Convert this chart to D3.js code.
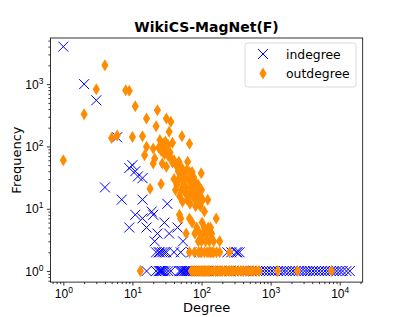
<!DOCTYPE html>
<html>
<head>
<meta charset="utf-8">
<script src="https://cdn.jsdelivr.net/npm/d3@7"></script>
<style>
  body { margin: 0; background: #fff; }
  svg { font-family: "DejaVu Sans", sans-serif; }
  .axis path, .axis line { stroke: #000; stroke-width: 0.8; }
</style>
</head>
<body>
<svg id="chart" width="403" height="317"></svg>
<script>
var title = "WikiCS-MagNet(F)";
var xLabel = "Degree", yLabel = "Frequency";
var seriesNames = ["indegree", "outdegree"];
var majorTicks = [0, 1, 2, 3, 4];
var yMajorTicks = [0, 1, 2, 3];

// [degree, frequency]
var indegree = [
  [1, 4000], [2, 1000], [3, 550], [4, 22], [6, 140],
  [9, 45], [10, 50], [11, 40], [12, 33], [14, 31],
  [7, 14], [14, 14], [32, 12], [11, 8], [19, 9], [20, 8], [14, 7], [29, 6],
  [9, 5], [16, 5], [45, 5], [23, 4], [34, 4], [21, 3], [54, 3],
  [22, 2], [24, 2], [25, 2], [27, 2], [29, 2], [31, 2], [40, 2], [50, 2], [71, 2],
  [237, 2], [270, 2], [317, 2], [331, 2], [355, 2]
];
var indegreeOnes = [16, 22, 24, 25, 26, 27, 28, 30, 33, 36, 48, 50, 52, 55, 57, 60, 62, 65, 67,
  70, 75, 80, 88, 95, 105, 115, 125, 140, 155, 170, 190, 210, 230, 260, 290, 320, 350,
  390, 430, 470, 520, 580, 640, 700, 780, 860, 950, 1050, 1150, 1280, 1400, 1550, 1700,
  1900, 2100, 2300, 2550, 2800, 3100, 3400, 3700, 4100, 4500, 5000, 5500, 6100, 6700,
  7400, 8200, 9000, 10000, 11000, 12500, 14000];

var outdegree = [
  [1, 60], [2, 330], [3, 830], [4, 2000], [5, 137], [6, 150], [8, 800], [9, 780],
  [11, 440], [10, 142], [14, 146], [16, 282], [23, 380], [22, 210], [31, 280], [36, 250],
  [34, 172], [52, 146], [67, 110], [16, 99], [20, 93], [15, 72], [21, 64], [20, 53],
  [27, 53], [47, 57], [63, 57], [25, 127], [28, 110], [30, 100], [32, 90], [35, 80],
  [38, 115], [26, 85], [29, 75], [33, 70], [36, 65], [40, 60], [43, 50], [31, 47],
  [38, 55], [67, 39], [73, 39], [99, 37], [26, 25], [18, 21],
  [40, 30], [45, 28], [50, 32], [55, 25], [60, 22], [65, 30], [70, 26], [75, 20],
  [80, 28], [85, 18], [90, 24], [95, 16], [100, 20], [104, 14], [42, 20], [48, 16],
  [53, 13], [58, 18], [62, 14], [68, 12], [78, 15], [88, 13], [72, 22], [57, 30],
  [46, 40], [52, 45], [56, 36], [61, 42], [77, 32], [83, 24], [92, 19], [66, 17],
  [44, 24], [51, 20], [74, 16], [82, 11], [96, 11], [30, 120], [33, 105], [24, 95],
  [123, 14], [110, 9], [163, 7], [48, 8], [50, 7], [67, 7], [73, 6], [60, 4],
  [85, 5], [95, 4], [100, 3], [110, 5], [120, 4], [130, 3], [140, 4], [150, 3],
  [90, 3], [105, 4], [115, 3], [125, 5], [183, 3], [80, 4], [102, 6], [135, 5],
  [67, 2], [79, 2], [90, 2], [100, 2], [110, 2], [120, 2], [135, 2], [150, 2],
  [165, 2], [183, 2], [254, 2], [95, 2], [128, 2], [142, 2]
];
var outdegreeOnes = [13, 71, 75, 80, 85, 90, 95, 100, 105, 110, 115, 120, 125, 130, 140,
  150, 160, 170, 180, 190, 200, 215, 230, 250, 270, 290, 310, 340, 370, 400, 440, 480,
  520, 560, 620, 680, 1260, 2450, 7600];

var svg = d3.select("#chart"),
    margin = {left: 50.4, right: 362.7, top: 38, bottom: 282.1};

var x = d3.scaleLog().domain([0.65, 21500]).range([margin.left, margin.right]);
var y = d3.scaleLog().domain([0.665, 5500]).range([margin.bottom, margin.top]);

function minorValues(scale) {
  var d = scale.domain(), vals = [];
  for (var e = -1; e <= 5; e++) {
    for (var m = 2; m <= 9; m++) {
      var v = m * Math.pow(10, e);
      if (v >= d[0] && v <= d[1]) vals.push(v);
    }
  }
  return vals;
}

// minor ticks
svg.append("g").attr("class", "axis")
  .attr("transform", "translate(0," + margin.bottom + ")")
  .call(d3.axisBottom(x).tickValues(minorValues(x)).tickSize(2).tickFormat(""))
  .select(".domain").remove();
svg.append("g").attr("class", "axis")
  .attr("transform", "translate(" + margin.left + ",0)")
  .call(d3.axisLeft(y).tickValues(minorValues(y)).tickSize(2).tickFormat(""))
  .select(".domain").remove();

// major ticks
var gx = svg.append("g").attr("class", "axis")
  .attr("transform", "translate(0," + margin.bottom + ")")
  .call(d3.axisBottom(x).tickValues(majorTicks.map(function(e) { return Math.pow(10, e); }))
    .tickSize(3.5).tickFormat(""));
gx.select(".domain").remove();
gx.selectAll(".tick").each(function(d, i) {
  var t = d3.select(this).append("text")
    .attr("y", 16).attr("text-anchor", "middle")
    .attr("fill", "#000").style("font-size", "12px");
  t.append("tspan").text("10");
  t.append("tspan").attr("dy", -5).style("font-size", "8.5px").text(majorTicks[i]);
});

var gy = svg.append("g").attr("class", "axis")
  .attr("transform", "translate(" + margin.left + ",0)")
  .call(d3.axisLeft(y).tickValues(yMajorTicks.map(function(e) { return Math.pow(10, e); }))
    .tickSize(3.5).tickFormat(""));
gy.select(".domain").remove();
gy.selectAll(".tick").each(function(d, i) {
  var t = d3.select(this).append("text")
    .attr("x", -7).attr("y", 4).attr("text-anchor", "end")
    .attr("fill", "#000").style("font-size", "12px");
  t.append("tspan").text("10");
  t.append("tspan").attr("dy", -5).style("font-size", "8.5px").text(yMajorTicks[i]);
});

// plot frame
svg.append("rect")
  .attr("x", margin.left).attr("y", margin.top)
  .attr("width", margin.right - margin.left).attr("height", margin.bottom - margin.top)
  .attr("fill", "none").attr("stroke", "#000").attr("stroke-width", 0.8);

var inPts = indegree.concat(indegreeOnes.map(function(v) { return [v, 1]; }));
var outPts = outdegree.concat(outdegreeOnes.map(function(v) { return [v, 1]; }));

var plot = svg.append("g");

function crossPath(s) {
  return "M" + (-s) + "," + (-s) + "L" + s + "," + s + "M" + (-s) + "," + s + "L" + s + "," + (-s);
}
function diamondPath(w, h) {
  return "M0," + (-h) + "L" + w + ",0L0," + h + "L" + (-w) + ",0Z";
}

plot.selectAll("path.in").data(inPts).enter().append("path")
  .attr("class", "in")
  .attr("transform", function(d) { return "translate(" + x(d[0]) + "," + y(d[1]) + ")"; })
  .attr("d", crossPath(5))
  .attr("stroke", "#0000ff").attr("stroke-width", 1).attr("fill", "none");

plot.selectAll("path.out").data(outPts).enter().append("path")
  .attr("class", "out")
  .attr("transform", function(d) { return "translate(" + x(d[0]) + "," + y(d[1]) + ")"; })
  .attr("d", diamondPath(3.6, 6))
  .attr("fill", "#ff8c00");

// title and labels
svg.append("text").attr("x", (margin.left + margin.right) / 2).attr("y", 32)
  .attr("text-anchor", "middle").style("font-size", "14px").style("font-weight", "bold")
  .text(title);
svg.append("text").attr("x", (margin.left + margin.right) / 2).attr("y", 312)
  .attr("text-anchor", "middle").style("font-size", "13px").text(xLabel);
svg.append("text")
  .attr("transform", "translate(21," + ((margin.top + margin.bottom) / 2) + ") rotate(-90)")
  .attr("text-anchor", "middle").style("font-size", "13px").text(yLabel);

// legend
var lg = svg.append("g");
lg.append("rect").attr("x", 245).attr("y", 43).attr("width", 111).attr("height", 44)
  .attr("rx", 2.5).attr("fill", "#fff").attr("fill-opacity", 0.8)
  .attr("stroke", "#d0d0d0").attr("stroke-width", 0.8);
seriesNames.forEach(function(name, i) {
  var cy = 54 + i * 19.5;
  if (i === 0) {
    lg.append("path").attr("transform", "translate(263," + cy + ")")
      .attr("d", crossPath(5)).attr("stroke", "#0000ff").attr("stroke-width", 1).attr("fill", "none");
  } else {
    lg.append("path").attr("transform", "translate(263," + cy + ")")
      .attr("d", diamondPath(3.6, 6)).attr("fill", "#ff8c00");
  }
  lg.append("text").attr("x", 286).attr("y", cy + 4.5).style("font-size", "12.4px").text(name);
});
</script>
</body>
</html>
